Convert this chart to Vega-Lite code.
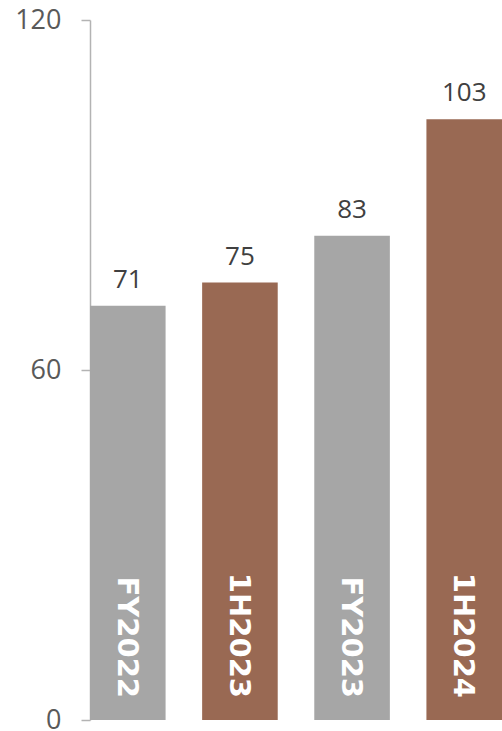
{
  "$schema": "https://vega.github.io/schema/vega-lite/v6.json",
  "autosize": {"type": "none"},
  "width": 412,
  "height": 700,
  "padding": {"left": 90, "top": 20, "right": 0, "bottom": 11},
  "background": "white",
  "config": {"view": {"stroke": null}, "font": "Open Sans"},
  "data": {
    "values": [
      {"period": "FY2022", "value": 71, "kind": "FY"},
      {"period": "1H2023", "value": 75, "kind": "1H"},
      {"period": "FY2023", "value": 83, "kind": "FY"},
      {"period": "1H2024", "value": 103, "kind": "1H"}
    ]
  },
  "encoding": {
    "x": {
      "field": "period",
      "type": "nominal",
      "sort": null,
      "scale": {"paddingInner": 0.326, "paddingOuter": 0},
      "axis": null
    }
  },
  "layer": [
    {
      "mark": {"type": "bar"},
      "encoding": {
        "y": {
          "field": "value",
          "type": "quantitative",
          "scale": {"domain": [0, 120], "nice": false},
          "axis": {
            "values": [0, 60, 120],
            "grid": false,
            "title": null,
            "domainColor": "#B3B3B3",
            "domainWidth": 1.5,
            "tickColor": "#B3B3B3",
            "tickWidth": 1.5,
            "tickSize": 9,
            "labelPadding": 20,
            "labelFontSize": 27,
            "labelColor": "#595959",
            "labelFont": "Open Sans"
          }
        },
        "color": {
          "field": "kind",
          "type": "nominal",
          "scale": {"domain": ["FY", "1H"], "range": ["#A6A6A6", "#996953"]},
          "legend": null
        }
      }
    },
    {
      "mark": {"type": "text", "fontSize": 26, "color": "#404040", "baseline": "alphabetic", "dy": -18, "font": "Open Sans"},
      "encoding": {
        "y": {"field": "value", "type": "quantitative"},
        "text": {"field": "value", "type": "quantitative"}
      }
    },
    {
      "mark": {"type": "text", "fontSize": 29, "fontWeight": "bold", "color": "white", "angle": 90, "align": "right", "baseline": "middle", "dx": -22, "dy": 1, "font": "DejaVu Sans"},
      "encoding": {
        "y": {"datum": 0, "type": "quantitative"},
        "text": {"field": "period", "type": "nominal"}
      }
    }
  ]
}
